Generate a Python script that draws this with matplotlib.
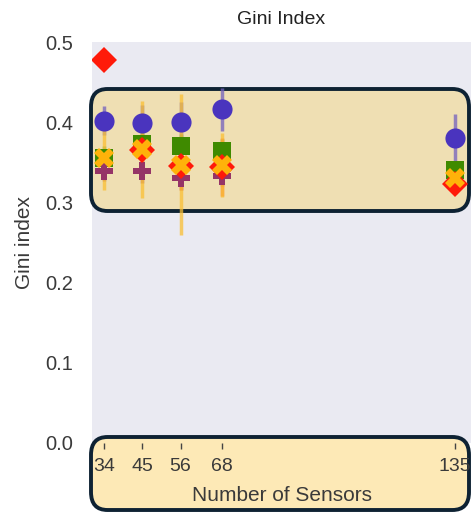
import matplotlib
matplotlib.use("Agg")
import matplotlib.pyplot as plt
from matplotlib.patches import FancyBboxPatch

plt.rcParams['font.family'] = ['Liberation Sans', 'DejaVu Sans']

sensors = [34, 45, 56, 68, 135]
tick_labels = ["34", "45", "56", "68", "135"]

# mean gini per method, with spread
circle_mean = [0.402, 0.399, 0.400, 0.416, 0.380]
circle_err = [0.018, 0.022, 0.025, 0.027, 0.030]
square_mean = [0.355, 0.373, 0.370, 0.364, 0.340]
square_err = [0.015, 0.015, 0.015, 0.015, 0.012]
plus_mean = [0.339, 0.339, 0.330, 0.333, 0.322]
plus_err = [0.012, 0.015, 0.015, 0.012, 0.010]
diamond_mean = [0.477, 0.365, 0.345, 0.344, 0.323]
diamond_err = [0.0, 0.020, 0.030, 0.036, 0.012]
cross_mean = [0.355, 0.366, 0.347, 0.347, 0.331]
cross_err = [0.040, 0.060, 0.088, 0.040, 0.020]

fig = plt.figure(figsize=(4.71, 5.12), dpi=100)
ax = fig.add_axes([92 / 471, 1 - 443 / 512, 379 / 471, 401 / 512])
for s in ax.spines.values():
    s.set_visible(False)

# rounded highlight boxes, placed in figure pixels
def add_box(x0, y0, x1, y1, fc):
    box = FancyBboxPatch((x0 / 471, 1 - y1 / 512), (x1 - x0) / 471, (y1 - y0) / 512,
                         boxstyle="round,pad=0,rounding_size=0.035",
                         transform=fig.transFigure, facecolor=fc,
                         edgecolor='#0E2233', linewidth=2.8, zorder=0.5,
                         clip_on=False)
    fig.add_artist(box)
    return box

# axes background drawn as a figure patch so the boxes can sit above it
fig.patches.append(FancyBboxPatch((92 / 471, 1 - 443 / 512), 379 / 471, 401 / 512,
                                  boxstyle="square,pad=0", transform=fig.transFigure,
                                  facecolor='#EAEAF2', edgecolor='none', zorder=0.1))
add_box(91, 89, 469, 211, '#EFDFB3')
add_box(91, 437, 469, 510, '#FDE9B6')
ax.set_zorder(1)
ax.patch.set_visible(False)

def series(mean, err, marker, color, ecolor, ms, mew=0):
    ax.errorbar(sensors, mean, yerr=err, fmt=marker, color=color, ms=ms,
                mew=mew, mec=color, ecolor=ecolor, elinewidth=2.5, capsize=0)

series(circle_mean, circle_err, 'o', '#4A34BE', (0.45, 0.38, 0.75, 0.75), 14.5)
series(square_mean, square_err, 's', '#3F8A00', (0.30, 0.60, 0.10, 0.6), 13)
series(plus_mean, plus_err, 'P', '#953467', (0.60, 0.25, 0.40, 0.6), 13)
series(diamond_mean, diamond_err, 'D', '#FF1A0A', (1.0, 0.35, 0.1, 0.6), 13)
series(cross_mean, cross_err, 'X', '#FFB20A', (0.98, 0.75, 0.20, 0.75), 15)

ax.set_xlim(30.5, 139.6)
ax.set_ylim(0, 0.5)
ax.set_xticks(sensors)
ax.set_xticklabels(tick_labels)
ax.set_yticks([0.0, 0.1, 0.2, 0.3, 0.4, 0.5])
ax.tick_params(axis='x', length=4, width=1, color='#444444', labelsize=14,
               labelcolor='#3a3a3a', pad=7)
ax.tick_params(axis='y', length=0, labelsize=14.5, labelcolor='#3a3a3a', pad=13.5)
ax.set_xlabel("Number of Sensors", fontsize=15, color='#3a3a3a', labelpad=8)
ax.set_ylabel("Gini index", fontsize=15, color='#3a3a3a', labelpad=8)
ax.set_title("Gini Index", fontsize=14, color='#222222', pad=13)

fig.savefig("out.png", dpi=100)
